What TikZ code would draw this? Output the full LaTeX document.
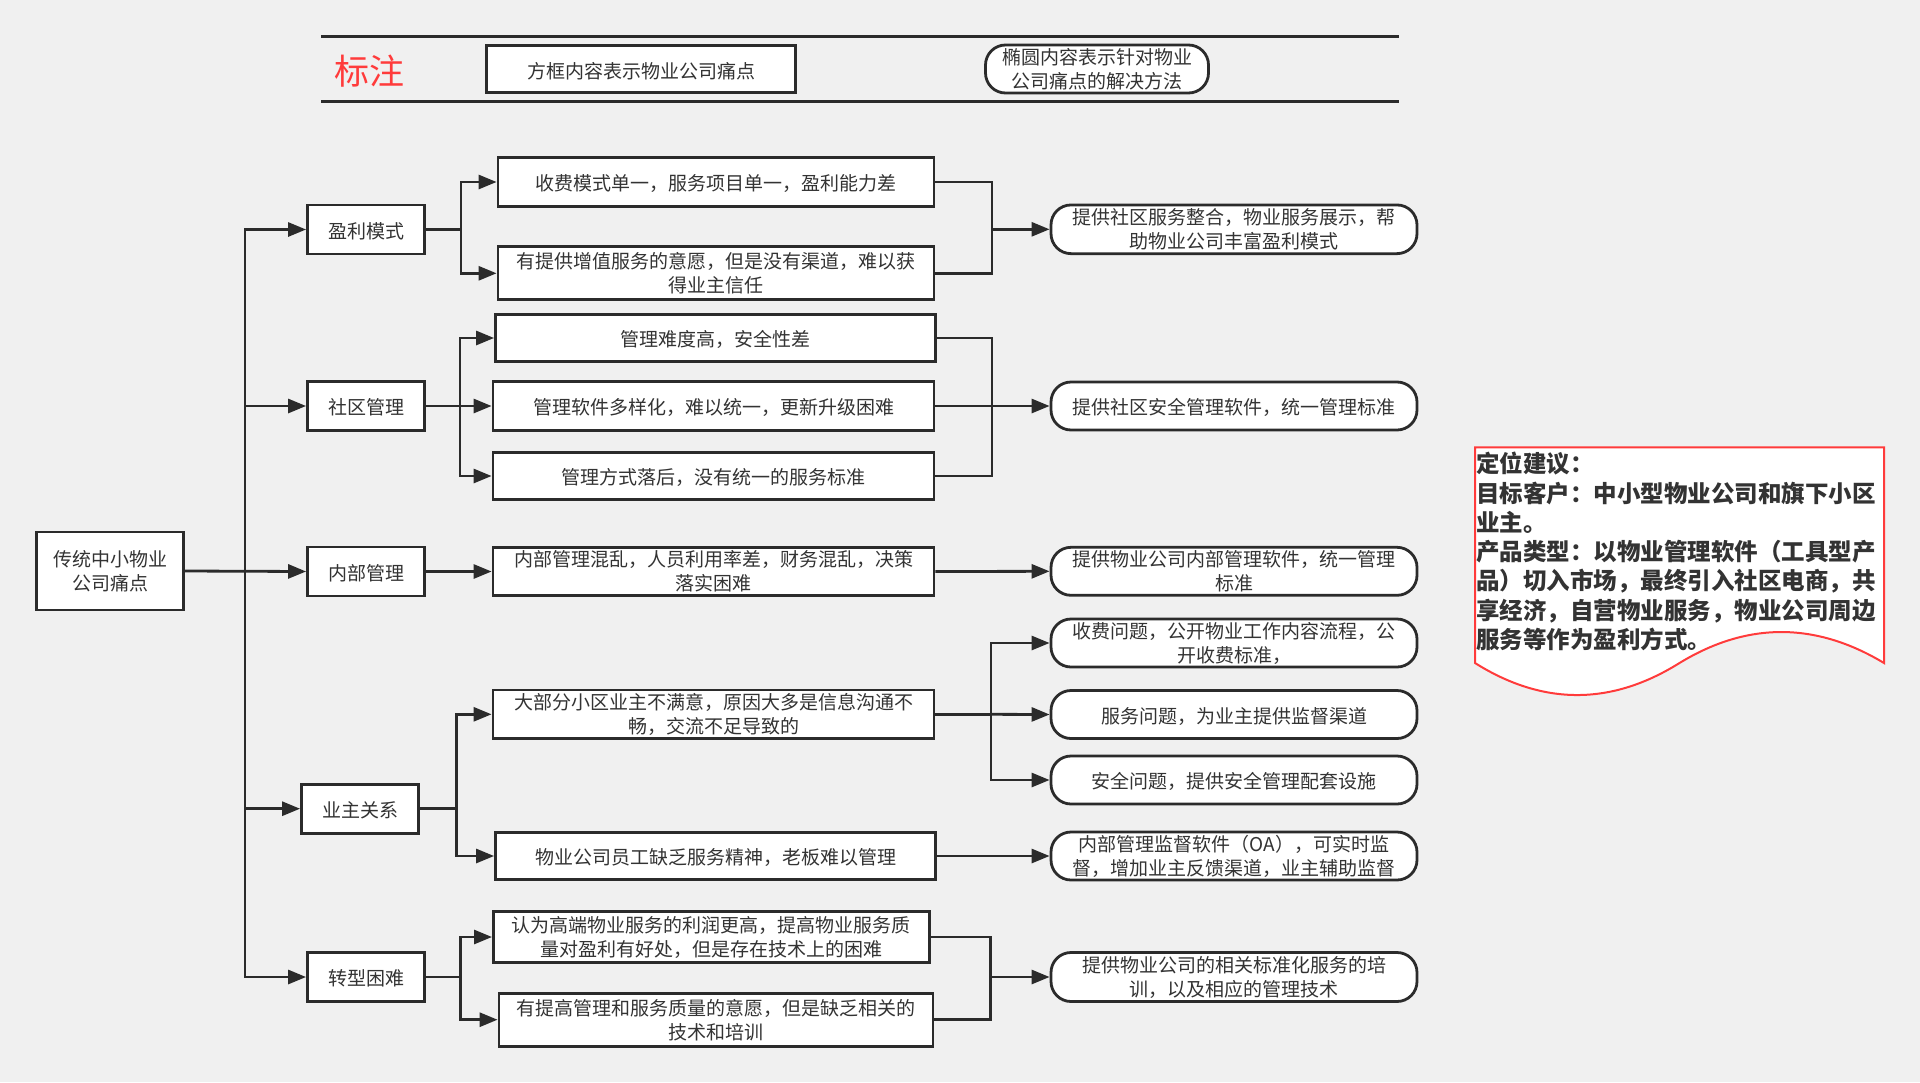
\documentclass[tikz,border=0pt]{standalone}
\usepackage{fontspec}
\setmainfont{Noto Sans CJK SC}
\usetikzlibrary{arrows.meta}
\definecolor{bg}{HTML}{F0F0F0}
\definecolor{lnc}{HTML}{2B2B2B}
\definecolor{tx}{HTML}{333333}
\definecolor{redc}{HTML}{FF3B3B}
\tikzset{
  box/.style={draw=lnc, line width=2.8pt, fill=white, text=tx, inner sep=0pt, align=center, font=\fontsize{19}{24}\selectfont, execute at begin node={\rule{0pt}{19.5pt}}},
  rbox/.style={box, rounded corners=20pt},
  conn/.style={draw=lnc, line width=2.8pt},
  arr/.style={draw=lnc, line width=2.8pt, -{Triangle[length=18pt,width=14pt]}},
  hline/.style={draw=lnc, line width=3pt},
  l1/.style={box, minimum width=117pt, minimum height=49pt},
  l3/.style={rbox, minimum width=366pt, minimum height=48pt},
}
\begin{document}
\begin{tikzpicture}[x=1pt,y=-1pt]
\fill[bg] (0,0) rectangle (1920,1082);
\useasboundingbox (0,0) rectangle (1920,1082);

% header
\draw[hline] (321,36.5) -- (1398.5,36.5);
\draw[hline] (321,101.6) -- (1398.5,101.6);
\node[text=redc, font=\fontsize{35}{40}\selectfont, inner sep=0pt] (bz) at (369,71) {标注};
\node[box, minimum width=309pt, minimum height=47pt] (lg1) at (641,69.2) {方框内容表示物业公司痛点};
\node[rbox, minimum width=223pt, minimum height=48pt] (lg2) at (1097,69) {椭圆内容表示针对物业\\公司痛点的解决方法};

% root
\node[box, minimum width=147pt, minimum height=78pt] (root) at (110,571) {传统中小物业\\公司痛点};

% level 1
\node[l1] (m1) at (366,229.5) {盈利模式};
\node[l1] (m2) at (366,406) {社区管理};
\node[l1] (m3) at (366,571.5) {内部管理};
\node[l1] (m4) at (360,808.7) {业主关系};
\node[l1] (m5) at (366,977) {转型困难};

% level 2
\node[box, minimum width=436pt, minimum height=48.6pt] (a1) at (716,182) {收费模式单一，服务项目单一，盈利能力差};
\node[box, minimum width=436pt, minimum height=53pt] (a2) at (716,273.3) {有提供增值服务的意愿，但是没有渠道，难以获\\得业主信任};
\node[box, minimum width=440pt, minimum height=47pt] (b1) at (715.5,338) {管理难度高，安全性差};
\node[box, minimum width=441pt, minimum height=49pt] (b2) at (713.5,406) {管理软件多样化，难以统一，更新升级困难};
\node[box, minimum width=441pt, minimum height=47pt] (b3) at (713.5,476) {管理方式落后，没有统一的服务标准};
\node[box, minimum width=441pt, minimum height=48pt] (c1) at (713.5,571.5) {内部管理混乱，人员利用率差，财务混乱，决策\\落实困难};
\node[box, minimum width=441pt, minimum height=48.7pt] (d1) at (713.5,714.3) {大部分小区业主不满意，原因大多是信息沟通不\\畅，交流不足导致的};
\node[box, minimum width=440pt, minimum height=47pt] (d2) at (715.5,856) {物业公司员工缺乏服务精神，老板难以管理};
\node[box, minimum width=436pt, minimum height=51pt] (e1) at (711.4,937) {认为高端物业服务的利润更高，提高物业服务质\\量对盈利有好处，但是存在技术上的困难};
\node[box, minimum width=434pt, minimum height=53pt] (e2) at (716,1019.7) {有提高管理和服务质量的意愿，但是缺乏相关的\\技术和培训};

% level 3
\node[l3, minimum height=48.7pt] (r1) at (1234,229.3) {提供社区服务整合，物业服务展示，帮\\助物业公司丰富盈利模式};
\node[l3] (r2) at (1234,406) {提供社区安全管理软件，统一管理标准};
\node[l3] (r3) at (1234,571.3) {提供物业公司内部管理软件，统一管理\\标准};
\node[l3] (r4) at (1234,643) {收费问题，公开物业工作内容流程，公\\开收费标准，};
\node[l3] (r5) at (1234,714.5) {服务问题，为业主提供监督渠道};
\node[l3] (r6) at (1234,780) {安全问题，提供安全管理配套设施};
\node[l3] (r7) at (1234,856) {内部管理监督软件（OA），可实时监\\督，增加业主反馈渠道，业主辅助监督};
\node[l3, minimum height=49pt] (r8) at (1234,977) {提供物业公司的相关标准化服务的培\\训，以及相应的管理技术};

% trunk
\coordinate (t1) at (245,571);
\draw[conn] (root.east) -- (t1);
\draw[arr] (t1) |- (m1.west);
\draw[arr] (t1) |- (m2.west);
\draw[arr] (root.east) -- (m3.west);
\draw[arr] (t1) |- (m4.west);
\draw[arr] (t1) |- (m5.west);

% group 1
\coordinate (j1) at (461,229.5);
\draw[conn] (m1.east) -- (j1);
\draw[arr] (j1) |- (a1.west);
\draw[arr] (j1) |- (a2.west);
\coordinate (k1) at (992,229.3);
\draw[conn] (a1.east) -| (k1);
\draw[conn] (a2.east) -| (k1);
\draw[arr] (k1) -- (r1.west);

% group 2
\coordinate (j2) at (460,406);
\draw[conn] (m2.east) -- (j2);
\draw[arr] (j2) |- (b1.west);
\draw[arr] (j2) -- (b2.west);
\draw[arr] (j2) |- (b3.west);
\coordinate (k2) at (992,406);
\draw[conn] (b1.east) -| (k2);
\draw[conn] (b3.east) -| (k2);
\draw[arr] (b2.east) -- (r2.west);

% group 3
\draw[arr] (m3.east) -- (c1.west);
\draw[arr] (c1.east) -- (r3.west);

% group 4
\coordinate (j4) at (456.6,808.7);
\draw[conn] (m4.east) -- (j4);
\draw[arr] (j4) |- (d1.west);
\draw[arr] (j4) |- (d2.west);
\coordinate (k4) at (991,714.3);
\draw[conn] (d1.east) -- (k4);
\draw[arr] (k4) |- (r4.west);
\draw[arr] (k4) -- (r5.west);
\draw[arr] (k4) |- (r6.west);
\draw[arr] (d2.east) -- (r7.west);

% group 5
\coordinate (j5) at (460.7,977);
\draw[conn] (m5.east) -- (j5);
\draw[arr] (j5) |- (e1.west);
\draw[arr] (j5) |- (e2.west);
\coordinate (k5) at (990.8,977);
\draw[conn] (e1.east) -| (k5);
\draw[conn] (e2.east) -| (k5);
\draw[arr] (k5) -- (r8.west);

% note (document shape)
\path[draw=redc, line width=2pt, fill=white] (1475,447.3) -- (1884,447.3) -- (1884,663)
  .. controls (1815.3,621.7) and (1747.2,621.7) .. (1679.5,663)
  .. controls (1611.2,705.7) and (1543,705.7) .. (1475,663) -- cycle;
\node[anchor=north west, inner sep=0pt, align=left, text=tx, font=\fontsize{23.5}{29.3}\selectfont\bfseries] (note) at (1476,452) {定位建议：\\目标客户：中小型物业公司和旗下小区\\业主。\\产品类型：以物业管理软件（工具型产\\品）切入市场，最终引入社区电商，共\\享经济，自营物业服务，物业公司周边\\服务等作为盈利方式。};
\end{tikzpicture}
\end{document}
